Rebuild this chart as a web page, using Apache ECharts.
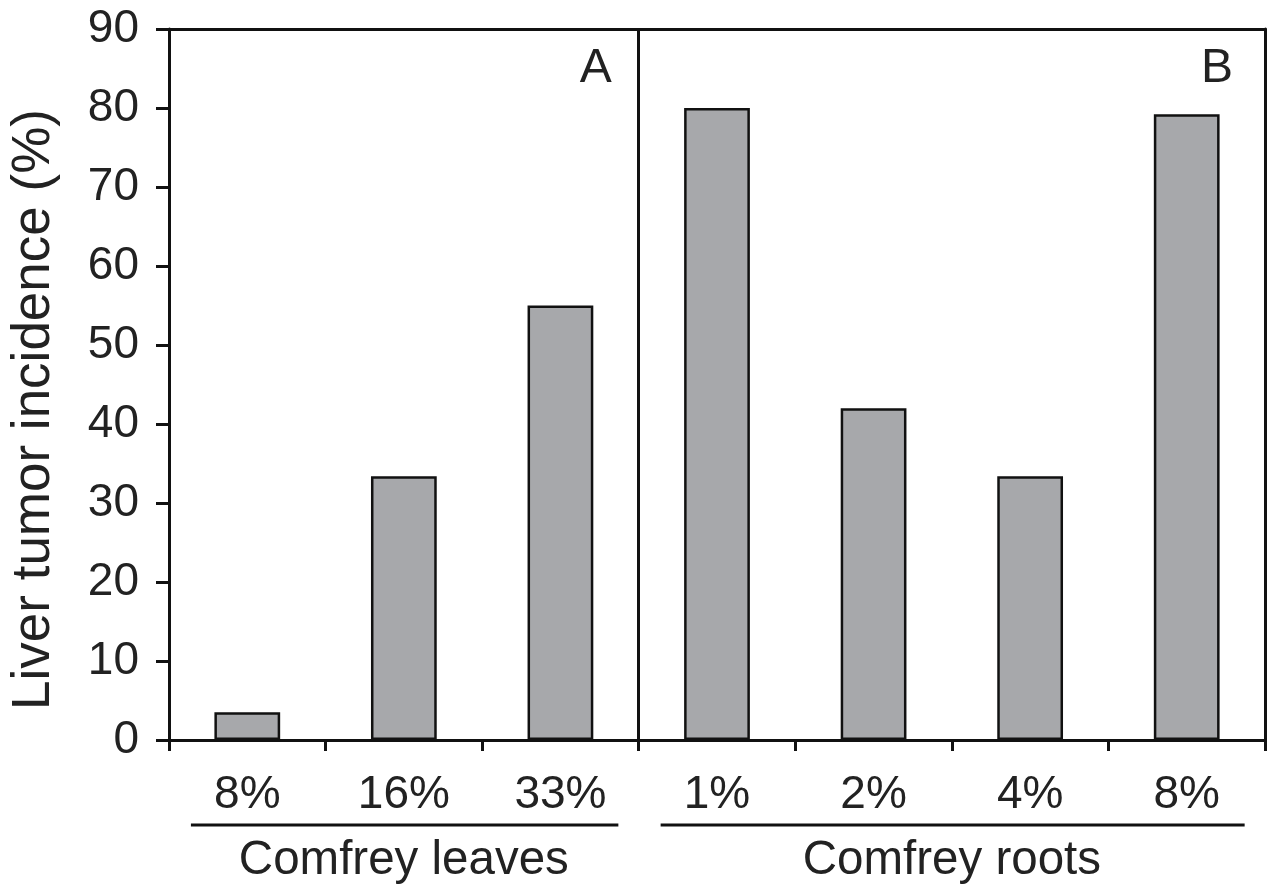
<!DOCTYPE html>
<html>
<head>
<meta charset="utf-8">
<script src="https://cdn.jsdelivr.net/npm/echarts@6/dist/echarts.min.js"></script>
<style>
  html, body { margin: 0; padding: 0; background: #fff; }
  #chart { width: 1276px; height: 886px; }
</style>
</head>
<body>
<div id="chart"></div>
<script>
const categories = ['8%', '16%', '33%', '1%', '2%', '4%', '8%'];
const incidence = [3.5, 33.4, 55.0, 80.0, 42.0, 33.4, 79.2];
const yTicks = { min: 0, max: 90, interval: 10 };
const groups = [
  { name: 'Comfrey leaves', from: 0, to: 2, panel: 'A' },
  { name: 'Comfrey roots', from: 3, to: 6, panel: 'B' }
];
const dividerAt = 3; // boundary between the two panels (in category units)
const yName = 'Liver tumor incidence (%)';

const FONT = '"Liberation Sans", Arial, Helvetica, sans-serif';
const chart = echarts.init(document.getElementById('chart'), null, { renderer: 'canvas' });

const catIdx = categories.map((c, i) => i);
const AXIS = { color: '#111', width: 3 };

const option = {
  backgroundColor: '#ffffff',
  animation: false,
  grid: { left: 166, right: 11, top: 29, bottom: 146, containLabel: false },
  xAxis: [
    {
      type: 'category',
      data: catIdx,
      position: 'bottom',
      boundaryGap: true,
      axisLine: { show: true, onZero: false, lineStyle: AXIS },
      axisTick: { show: true, length: 11, inside: false, lineStyle: AXIS },
      axisLabel: {
        show: true, margin: 32, color: '#222', fontSize: 46, fontFamily: FONT,
        formatter: v => categories[+v]
      },
      splitLine: { show: false }
    },
    {
      type: 'category',
      data: catIdx,
      position: 'top',
      axisLine: { show: true, onZero: false, lineStyle: AXIS },
      axisTick: { show: false },
      axisLabel: { show: false },
      splitLine: { show: false }
    },
    {
      type: 'value',
      min: 0, max: categories.length,
      show: false,
      position: 'bottom'
    }
  ],
  yAxis: [
    {
      type: 'value',
      min: yTicks.min, max: yTicks.max, interval: yTicks.interval,
      position: 'left',
      name: yName,
      nameLocation: 'middle',
      nameGap: 108,
      nameTextStyle: { fontSize: 53, color: '#222', fontFamily: FONT, padding: [0, 50, 0, 0] },
      axisLine: { show: true, onZero: false, lineStyle: AXIS },
      axisTick: { show: true, length: 13, inside: false, lineStyle: AXIS },
      axisLabel: { show: true, margin: 30, color: '#222', fontSize: 46, fontFamily: FONT },
      splitLine: { show: false }
    },
    {
      type: 'value',
      min: yTicks.min, max: yTicks.max, interval: yTicks.interval,
      position: 'right',
      axisLine: { show: true, onZero: false, lineStyle: AXIS },
      axisTick: { show: false },
      axisLabel: { show: false },
      splitLine: { show: false }
    }
  ],
  series: [
    {
      type: 'bar',
      xAxisIndex: 0,
      yAxisIndex: 0,
      data: incidence,
      barWidth: '42%',
      itemStyle: { color: '#a7a8ab', borderColor: '#111', borderWidth: 2.5 }
    },
    {
      type: 'line',
      xAxisIndex: 2,
      yAxisIndex: 0,
      data: [],
      silent: true,
      markLine: {
        silent: true,
        symbol: ['none', 'none'],
        label: { show: false },
        lineStyle: { color: '#111', width: 3, type: 'solid' },
        data: [{ xAxis: dividerAt }]
      }
    }
  ]
};
chart.setOption(option);

// group annotations, positioned from the category scale
function px(i) { return chart.convertToPixel({ xAxisIndex: 0 }, i); }
const step = px(1) - px(0);
const yZero = chart.convertToPixel({ yAxisIndex: 0 }, 0);
const yTop = chart.convertToPixel({ yAxisIndex: 0 }, yTicks.max);
const graphics = [];
groups.forEach(g => {
  const x1 = px(g.from) - step * 0.36;
  const x2 = px(g.to) + step * 0.37;
  graphics.push({
    type: 'line',
    shape: { x1: x1, y1: yZero + 85, x2: x2, y2: yZero + 85 },
    style: { stroke: '#111', lineWidth: 3 }
  });
  graphics.push({
    type: 'text',
    x: (px(g.from) + px(g.to)) / 2,
    y: yZero + 121,
    style: {
      text: g.name, fill: '#222', fontSize: 47.5, fontFamily: FONT,
      align: 'center', verticalAlign: 'middle'
    }
  });
  const rightEdge = px(g.to) + step / 2;
  graphics.push({
    type: 'text',
    x: rightEdge - (g.panel === 'A' ? 27 : 32),
    y: yTop + 40,
    style: {
      text: g.panel, fill: '#222', fontSize: 48, fontFamily: FONT,
      align: 'right', verticalAlign: 'middle'
    }
  });
});
chart.setOption({ graphic: graphics });
</script>
</body>
</html>
